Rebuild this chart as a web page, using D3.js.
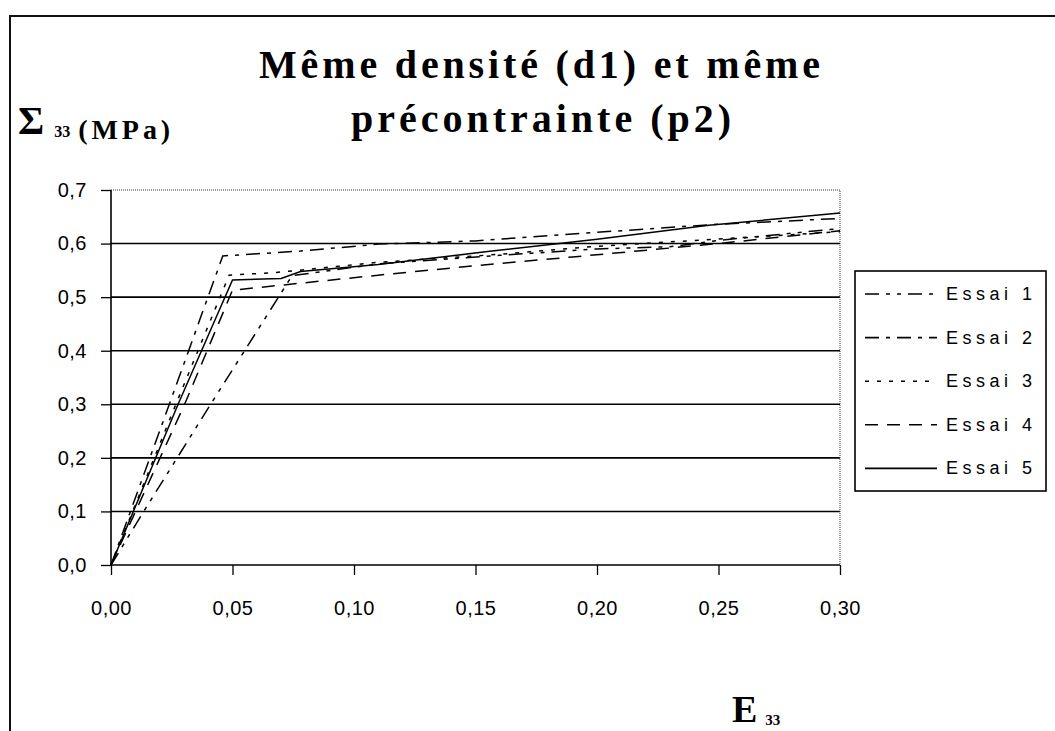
<!DOCTYPE html>
<html>
<head>
<meta charset="utf-8">
<script src="https://cdn.jsdelivr.net/npm/d3@7"></script>
<style>
  body { margin: 0; background: #fff; }
  svg { display: block; }
</style>
</head>
<body>
<div id="chart"></div>
<script>
// data (E33, Sigma33 in MPa)
const seriesNames = ['Essai 1', 'Essai 2', 'Essai 3', 'Essai 4', 'Essai 5']

const essai1 = [[0, 0], [0.0125, 0.093], [0.041, 0.30], [0.0745, 0.54], [0.11, 0.562], [0.16, 0.578], [0.20, 0.59], [0.23, 0.594], [0.25, 0.606], [0.30, 0.628]]
const essai2 = [[0, 0], [0.024, 0.30], [0.046, 0.577], [0.078, 0.586], [0.11, 0.599], [0.15, 0.605], [0.20, 0.621], [0.246, 0.635], [0.30, 0.647]]
const essai3 = [[0, 0], [0.0267, 0.30], [0.0486, 0.541], [0.068, 0.546], [0.11, 0.565], [0.16, 0.58], [0.20, 0.595], [0.30, 0.622]]
const essai4 = [[0, 0], [0.0303, 0.30], [0.050, 0.513], [0.11, 0.541], [0.16, 0.563], [0.19, 0.575], [0.25, 0.60], [0.30, 0.624]]
const essai5 = [[0, 0], [0.0276, 0.30], [0.050, 0.532], [0.070, 0.535], [0.078, 0.548], [0.11, 0.561], [0.155, 0.585], [0.20, 0.608], [0.246, 0.634], [0.30, 0.657]]

const xTicks = [0, 0.05, 0.10, 0.15, 0.20, 0.25, 0.30]
const yTicks = [0, 0.1, 0.2, 0.3, 0.4, 0.5, 0.6, 0.7]

const allSeries = [essai1, essai2, essai3, essai4, essai5]
const dashes = ['14,7,4,7,4,7', '14,7,4,7', '4,8', '13,9', null]

const width = 1055
const height = 731

const svg = d3.select('#chart')
  .append('svg')
  .attr('width', width)
  .attr('height', height)

// outer frame (only top and left visible)
svg.append('path')
  .attr('d', 'M10,' + height + 'V16H' + width)
  .attr('fill', 'none')
  .attr('stroke', '#111')
  .attr('stroke-width', 2)

const x = d3.scaleLinear().domain([0, 0.30]).range([111, 840])
const y = d3.scaleLinear().domain([0, 0.7]).range([565, 190])

const comma = f => d => d3.format(f)(d).replace('.', ',')

// horizontal grid lines
svg.selectAll('.grid')
  .data(yTicks.filter(d => d > 0 && d < 0.7))
  .enter()
  .append('line')
  .attr('class', 'grid')
  .attr('x1', x(0))
  .attr('x2', x(0.30))
  .attr('y1', d => y(d))
  .attr('y2', d => y(d))
  .attr('stroke', '#000')
  .attr('stroke-width', 1.6)

// dotted plot border top + right
svg.append('path')
  .attr('d', `M${x(0)},${y(0.7)}H${x(0.30)}V${y(0)}`)
  .attr('fill', 'none')
  .attr('stroke', '#333')
  .attr('stroke-width', 1)
  .attr('stroke-dasharray', '1,1')

const yAxis = svg.append('g')
  .attr('transform', `translate(${x(0)},0)`)
  .call(d3.axisLeft(y).tickValues(yTicks).tickFormat(comma('.1f')).tickSize(10).tickPadding(14))

const xAxis = svg.append('g')
  .attr('transform', `translate(0,${y(0)})`)
  .call(d3.axisBottom(x).tickValues(xTicks).tickFormat(comma('.2f')).tickSize(10).tickPadding(26))

;[yAxis, xAxis].forEach(g => {
  g.select('.domain').attr('stroke', '#000').attr('stroke-width', 1.6)
  g.selectAll('.tick line').attr('stroke', '#000').attr('stroke-width', 1.3)
  g.selectAll('text')
    .attr('fill', '#000')
    .style('font-family', '"Liberation Sans", Arial, sans-serif')
    .style('font-size', '20px')
    .style('letter-spacing', '0.5px')
})
xAxis.select('.domain').attr('d', `M${x(0)},0H${x(0.30)}`)
yAxis.select('.domain').attr('d', `M0,${y(0)}V${y(0.7)}`)

// curves
const line = d3.line()
  .x(d => x(d[0]))
  .y(d => y(d[1]))

svg.selectAll('.curve')
  .data(allSeries)
  .enter()
  .append('path')
  .attr('class', 'curve')
  .attr('d', line)
  .attr('fill', 'none')
  .attr('stroke', '#000')
  .attr('stroke-width', 1.5)
  .attr('stroke-dasharray', (d, i) => dashes[i])

// legend
svg.append('rect')
  .attr('x', 855)
  .attr('y', 271)
  .attr('width', 191)
  .attr('height', 220)
  .attr('fill', '#fff')
  .attr('stroke', '#000')
  .attr('stroke-width', 1.6)

const legend = svg.selectAll('.legend')
  .data(seriesNames)
  .enter()
  .append('g')
  .attr('class', 'legend')
  .attr('transform', (d, i) => `translate(0,${294 + i * 43.6})`)

legend.append('line')
  .attr('x1', 865)
  .attr('x2', 937)
  .attr('stroke', '#000')
  .attr('stroke-width', 1.6)
  .attr('stroke-dasharray', (d, i) => dashes[i])

legend.append('text')
  .text(d => d)
  .attr('x', 946)
  .attr('y', 6)
  .attr('textLength', 86)
  .style('font-family', '"Liberation Sans", Arial, sans-serif')
  .style('font-size', '18px')

// title
const serif = '"Liberation Serif", "Times New Roman", serif'
svg.append('text')
  .text('Même densité (d1) et même')
  .attr('x', 259)
  .attr('y', 78)
  .attr('textLength', 561)
  .style('font-family', serif)
  .style('font-weight', 'bold')
  .style('font-size', '40px')

svg.append('text')
  .text('précontrainte (p2)')
  .attr('x', 351)
  .attr('y', 132)
  .attr('textLength', 380)
  .style('font-family', serif)
  .style('font-weight', 'bold')
  .style('font-size', '40px')

// axis titles
const yLab = svg.append('text')
  .attr('x', 18)
  .attr('y', 134)
  .style('font-family', serif)
  .style('font-weight', 'bold')
yLab.append('tspan').text('Σ').style('font-size', '40px')
yLab.append('tspan').text('33').attr('dx', 10).attr('dy', 3).style('font-size', '16px')
yLab.append('tspan').text('(MPa)').attr('dx', 8).attr('dy', 2).attr('textLength', 92).style('font-size', '28px')

const xLab = svg.append('text')
  .attr('x', 732)
  .attr('y', 722)
  .style('font-family', serif)
  .style('font-weight', 'bold')
xLab.append('tspan').text('E').style('font-size', '38px')
xLab.append('tspan').text('33').attr('dx', 8).attr('dy', 3).style('font-size', '15px')
</script>
</body>
</html>
